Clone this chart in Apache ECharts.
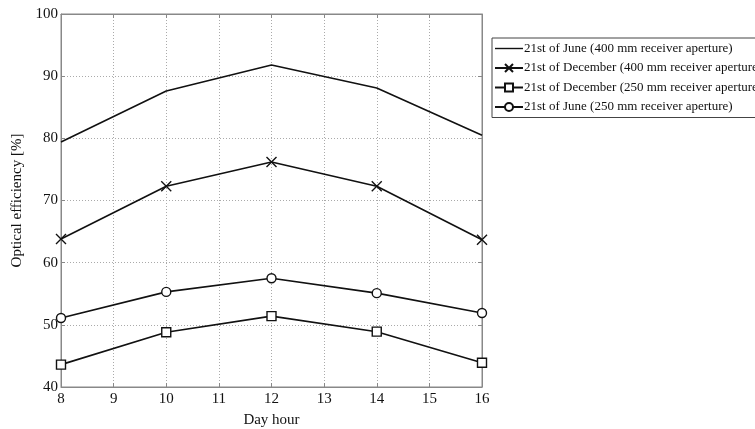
<!DOCTYPE html>
<html>
<head>
<meta charset="utf-8">
<script src="https://cdn.jsdelivr.net/npm/echarts@6/dist/echarts.min.js"></script>
<style>
  html, body { margin: 0; padding: 0; background: #fff; }
  #main { width: 755px; height: 429px; }
</style>
</head>
<body>
<div id="main"></div>
<script>
// data
var hours = [8, 10, 12, 14, 16];
var june400 = [79.4, 87.6, 91.8, 88.1, 80.5];
var dec400 = [63.8, 72.3, 76.2, 72.3, 63.7];
var dec250 = [43.6, 48.8, 51.4, 48.9, 43.9];
var june250 = [51.1, 55.3, 57.5, 55.1, 51.9];
var seriesNames = [
    '21st of June (400 mm receiver aperture)',
    '21st of December (400 mm receiver aperture)',
    '21st of December (250 mm receiver aperture)',
    '21st of June (250 mm receiver aperture)'
];

function pairs(vals) {
    return hours.map(function (h, i) { return [h, vals[i]]; });
}

var font = 'Liberation Serif';
var myChart = echarts.init(document.getElementById('main'));

function mkSeries(name, vals, symbol, size) {
    return {
        name: name,
        type: 'line',
        data: pairs(vals),
        symbol: symbol,
        symbolSize: size,
        showSymbol: symbol !== 'none',
        lineStyle: { color: '#111', width: 1.6 },
        itemStyle: { color: '#fff', borderColor: '#111', borderWidth: 1.4 },
        emphasis: { disabled: true },
        z: 5
    };
}

// legend entries: first one is a plain line, no marker
var legendData = seriesNames.map(function (n, i) {
    if (i === 0) {
        return {
            name: n,
            icon: 'path://M0,0L0,0M0,4.3L28,4.3L28,5.7L0,5.7ZM28,10L28,10',
            itemStyle: { color: '#111', borderWidth: 0 }
        };
    }
    return { name: n };
});

var option = {
    animation: false,
    textStyle: { fontFamily: font },
    grid: {
        left: 61, right: 273, top: 14, bottom: 42,
        outerBoundsMode: 'none',
        show: true, borderColor: '#888', borderWidth: 1
    },
    legend: {
        orient: 'vertical',
        left: 492,
        top: 38,
        itemWidth: 28,
        itemHeight: 10,
        itemGap: 6.5,
        padding: [4, 4, 4, 2],
        borderColor: '#444',
        borderWidth: 1,
        backgroundColor: '#fff',
        textStyle: { fontFamily: font, fontSize: 13, color: '#111', padding: [0, 0, 0, -4] },
        data: legendData
    },
    xAxis: [{
        type: 'value',
        min: 8, max: 16, interval: 1,
        name: 'Day hour',
        nameLocation: 'middle',
        nameGap: 26,
        nameTextStyle: { fontFamily: font, fontSize: 15, color: '#111' },
        axisLine: { lineStyle: { color: '#888' } },
        axisTick: { inside: true, length: 4, lineStyle: { color: '#888' } },
        axisLabel: { fontFamily: font, fontSize: 15, color: '#111', margin: 5 },
        splitLine: { show: true, lineStyle: { color: '#aaa', type: [1, 2] } }
    }, {
        type: 'value',
        position: 'top',
        min: 8, max: 16, interval: 1,
        axisLine: { lineStyle: { color: '#888' } },
        axisTick: { inside: true, length: 4, lineStyle: { color: '#888' } },
        axisLabel: { show: false },
        splitLine: { show: false }
    }],
    yAxis: [{
        type: 'value',
        min: 40, max: 100, interval: 10,
        name: 'Optical efficiency [%]',
        nameLocation: 'middle',
        nameGap: 35,
        nameTextStyle: { fontFamily: font, fontSize: 15, color: '#111' },
        axisLine: { show: true, lineStyle: { color: '#888' } },
        axisTick: { show: true, inside: true, length: 4, lineStyle: { color: '#888' } },
        axisLabel: { fontFamily: font, fontSize: 15, color: '#111', margin: 3 },
        splitLine: { show: true, lineStyle: { color: '#aaa', type: [1, 2] } }
    }, {
        type: 'value',
        position: 'right',
        min: 40, max: 100, interval: 10,
        axisLine: { show: true, lineStyle: { color: '#888' } },
        axisTick: { show: true, inside: true, length: 4, lineStyle: { color: '#888' } },
        axisLabel: { show: false },
        splitLine: { show: false }
    }],
    series: [
        mkSeries(seriesNames[0], june400, 'none', 0),
        mkSeries(seriesNames[1], dec400, 'path://M0,0L10,10M10,0L0,10', 10),
        mkSeries(seriesNames[2], dec250, 'rect', 9),
        mkSeries(seriesNames[3], june250, 'circle', 9)
    ]
};
myChart.setOption(option);
</script>
</body>
</html>
